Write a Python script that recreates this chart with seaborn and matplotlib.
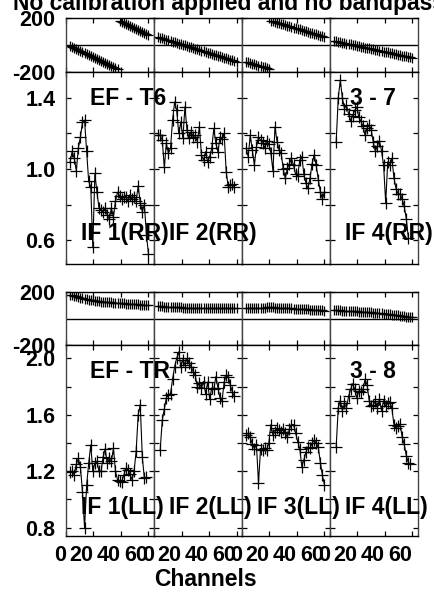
import numpy as np
import matplotlib
matplotlib.use('Agg')
import matplotlib.pyplot as plt
import seaborn as sns

sns.set_style('ticks')
plt.rcParams['font.family'] = ['Liberation Sans', 'DejaVu Sans']
plt.rcParams['font.weight'] = 'bold'
plt.rcParams.update({'text.color': 'k', 'axes.labelcolor': 'k',
                     'xtick.color': 'k', 'ytick.color': 'k'})

nan = np.nan

# ---------------- data ----------------
channels = [3, 4.5, 6, 7.5, 9, 10.5, 12, 13.5, 15, 16.5, 18, 19.5, 21, 22.5, 24, 25.5,
            27, 28.5, 30, 31.5, 33, 34.5, 36, 37.5, 39, 40.5, 42, 43.5, 45, 46.5, 48,
            49.5, 51, 52.5, 54, 55.5, 57, 58.5, 60]

# baseline EF - T6, RR polarisation (upper block)
phase_rr_if1 = [-7, -14, -22, -29, -36, -44, -51, -58, -66, -73, -80, -88, -95, -102, -110,
                -117, -124, -132, -139, -146, -154, -161, -168, -176, 176, 169, 162, 155,
                147, 140, 133, 126, 119, 112, 104, 97, 90, 83, 76]
phase_rr_if2 = [59, 54, 49, 45, 40, 35, 30, 25, 21, 16, 11, 6, 1, -3, -8, -13, -18, -23,
                -27, -32, -37, -42, -47, -51, -56, -61, -66, -71, -75, -80, -85, -90, -95,
                -99, -104, -109, -114, -119, -123]
phase_rr_if3 = [-124, -129, -134, -138, -143, -148, -152, -157, -162, -166, -171, -175,
                180, 175, 171, 166, 161, 157, 152, 147, 143, 138, 133, 129, 124, 119, 115,
                110, 105, 101, 96, 92, 87, 82, 78, 73, 68, 64, 59]
phase_rr_if4 = [31, 28, 25, 21, 18, 15, 11, 8, 5, 1, -2, -5, -9, -12, -15, -19, -22, -25,
                -29, -32, -35, -39, -42, -45, -49, -52, -55, -59, -62, -65, -69, -72, -75,
                -79, -82, -85, -89, -92, -95]

amp_rr_if1 = [1.04, 1.10, 1.06, 0.99, 1.12, 1.18, 1.265, 1.275, 1.10, 0.93, 0.90, 0.56,
              0.975, 0.87, 0.78, 0.77, 0.76, 0.78, 0.74, 0.72, 0.78, 0.73, 0.82, 0.87,
              0.85, 0.83, 0.84, 0.845, 0.82, 0.855, 0.83, 0.845, 0.82, 0.905, 0.81, 0.76,
              0.80, 0.63, 0.52]
amp_rr_if2 = [1.19, 1.19, 1.163, 1.01, 1.144, 1.088, 1.116, 1.275, 1.378, 1.33, 1.20,
              1.265, 1.172, 1.35, 1.22, 1.172, 1.21, 1.18, 1.19, 1.153, 1.237, 1.08, 1.05,
              1.097, 1.04, 1.07, 1.116, 1.228, 1.144, 1.097, 1.18, 1.17, 1.20, 0.985,
              0.90, 0.91, 0.914, 0.90, nan]
amp_rr_if3 = [1.116, 1.07, 1.19, 1.107, 1.022, 1.125, 1.18, 1.163, 1.144, 1.12, 1.16,
              1.14, 1.09, 0.99, 1.237, 1.153, 1.107, 1.088, 1.0, 0.947, 1.004, 1.03, 1.06,
              1.02, 0.97, 0.96, 1.05, 1.07, 0.97, 0.92, 0.891, 0.95, 1.03, 1.08, 1.02,
              0.94, 0.87, 0.83, 0.873]
amp_rr_if4 = [nan, 1.153, 1.40, 1.50, 1.40, 1.34, 1.36, 1.31, 1.27, 1.30, 1.33, 1.35,
              1.29, 1.27, 1.24, 1.19, 1.23, 1.25, 1.22, 1.15, 1.10, 1.13, 1.16, 1.10, 1.02,
              0.81, 1.04, 1.02, 1.06, 0.95, 0.89, 0.86, 0.86, 0.83, 0.79, 0.72, 0.61, nan,
              nan]

# baseline EF - TR, LL polarisation (lower block)
phase_ll_if1 = [180, 177, 172, 167, 162, 157, 152, 148, 145, 142, 139, 136, 134, 132,
                130, 128, 126, 124, 123, 122, 121, 120, 119, 118, 117, 115, 114, 113, 112,
                111, 110, 108, 107, 106, 105, 103, 102, 100, 99]
phase_ll_if2 = [95, 93, 91, 90, 89, 88, 87, 86, 85, 85, 84, 84, 83, 83, 82, 82, 81, 81,
                81, 80, 80, 80, 80, 79, 79, 79, 79, 79, 78, 78, 78, 78, 78, 78, 78, 78, 78,
                78, 78]
phase_ll_if3 = [76, 77, 78, 79, 80, 81, 82, 82, 83, 83, 84, 84, 84, 84, 83, 83, 82, 81,
                80, 79, 78, 77, 76, 75, 74, 73, 72, 71, 70, 69, 68, 67, 66, 65, 64, 63, 62,
                61, 60]
phase_ll_if4 = [64, 63, 62, 61, 60, 59, 58, 57, 56, 55, 54, 53, 52, 51, 50, 49, 48, 47,
                46, 45, 43, 42, 40, 39, 37, 35, 33, 31, 29, 27, 25, 23, 21, 19, 17, 15, 13,
                11, 9]

amp_ll_if1 = [1.197, 1.20, 1.174, 1.25, 1.29, 1.23, 1.05, 0.80, 1.10, 1.256, 1.386, 1.20,
              1.256, 1.27, 1.20, 1.20, 1.30, 1.36, 1.256, 1.29, 1.27, 1.363, 1.20, 1.138,
              1.13, 1.126, 1.17, 1.22, 1.21, 1.18, 1.14, 1.20, 1.34, 1.60, 1.67, 1.30,
              1.15, 1.16, nan]
amp_ll_if2 = [nan, 1.35, 1.56, 1.64, 1.72, 1.74, 1.75, 1.85, 1.94, 2.0, 2.045, 1.94, 1.99,
              1.955, 2.0, 1.965, 1.94, 1.906, 1.88, 1.80, 1.823, 1.79, 1.835, 1.75, 1.83,
              1.71, 1.79, 1.78, 1.87, 1.79, 1.72, 1.70, 1.83, 1.88, 1.87, 1.81, 1.76,
              1.73, nan]
amp_ll_if3 = [1.457, 1.47, 1.44, 1.39, 1.36, 1.386, 1.115, 1.36, 1.35, 1.363, 1.35, 1.40,
              1.53, 1.457, 1.48, 1.504, 1.492, 1.48, 1.50, 1.469, 1.44, 1.50, 1.53, 1.53,
              1.47, 1.41, 1.36, 1.233, 1.28, 1.335, 1.37, 1.363, 1.398, 1.42, 1.398, 1.37,
              1.26, 1.17, 1.103]
amp_ll_if4 = [nan, 1.374, 1.65, 1.70, 1.63, 1.68, 1.65, 1.73, 1.78, 1.82, 1.78, 1.72,
              1.77, 1.76, 1.78, 1.85, 1.81, 1.70, 1.66, 1.67, 1.70, 1.65, 1.71, 1.63, 1.70,
              1.66, 1.68, 1.69, 1.646, 1.53, 1.504, 1.52, 1.535, 1.44, 1.39, 1.31, 1.26,
              1.25, nan]

labels_rr = ['IF 1(RR)', 'IF 2(RR)', '', 'IF 4(RR)']
labels_ll = ['IF 1(LL)', 'IF 2(LL)', 'IF 3(LL)', 'IF 4(LL)']
baseline_rr = ('EF - T6', '3 - 7')
baseline_ll = ('EF - TR', '3 - 8')
title = 'No calibration applied and no bandpass'
xlabel = 'Channels'
x_ticks = [0, 20, 40, 60]
phase_ticks = [-200, 200]
amp_ticks_rr = [0.6, 0.8, 1.0, 1.2, 1.4]
amp_ticklabels_rr = ['0.6', '', '1.0', '', '1.4']
amp_ticks_ll = [0.8, 1.0, 1.2, 1.4, 1.6, 1.8, 2.0]
amp_ticklabels_ll = ['0.8', '', '1.2', '', '1.6', '', '2.0']

# ---------------- layout ----------------
W, H = 435, 592
fig = plt.figure(figsize=(W / 100, H / 100), dpi=100)
xedges = [66, 154, 242, 330, 418]


def ax_at(x0, y0, x1, y1):
    return fig.add_axes([x0 / W, 1 - y1 / H, (x1 - x0) / W, (y1 - y0) / H])


TL = 15.5
AL = 16.5


def style(ax, show_x, show_y):
    ax.set_xlim(0, 64)
    ax.set_xticks(x_ticks)
    ax.tick_params(axis='both', direction='in', length=3.8, width=0.9, top=True,
                   right=True, labelsize=TL, colors='k', pad=7.5)
    ax.tick_params(axis='x', pad=6.5)
    if not show_x:
        ax.set_xticklabels([])
    else:
        ax.set_xticklabels([str(t) for t in x_ticks], fontweight='bold', ha='right')
        for lab in ax.get_xticklabels():
            lab.set_horizontalalignment('right')
    if not show_y:
        ax.tick_params(labelleft=False)
    for side in ['top', 'bottom']:
        ax.spines[side].set_color('k')
        ax.spines[side].set_linewidth(1.0)
    for side in ['left', 'right']:
        ax.spines[side].set_color('#444444')
        ax.spines[side].set_linewidth(1.0)
    ax.set_xlabel('')
    ax.set_ylabel('')
    ax.set_facecolor('white')


blocks = [
    dict(py=(18, 72), ay=(72, 263.5), ylim=(0.468, 1.546), phases=[phase_rr_if1, phase_rr_if2, phase_rr_if3, phase_rr_if4],
         amps=[amp_rr_if1, amp_rr_if2, amp_rr_if3, amp_rr_if4], ticks=amp_ticks_rr,
         tlabels=amp_ticklabels_rr, labels=labels_rr, base=baseline_rr, show_x=False,
         base_y=105, lab_y=240),
    dict(py=(292, 345), ay=(345, 536), ylim=(0.741, 2.094), phases=[phase_ll_if1, phase_ll_if2, phase_ll_if3, phase_ll_if4],
         amps=[amp_ll_if1, amp_ll_if2, amp_ll_if3, amp_ll_if4], ticks=amp_ticks_ll,
         tlabels=amp_ticklabels_ll, labels=labels_ll, base=baseline_ll, show_x=True,
         base_y=378, lab_y=514),
]

x = np.array(channels, dtype=float)
for b in blocks:
    for i in range(4):
        x0, x1 = xedges[i], xedges[i + 1]
        # phase panel
        axp = ax_at(x0, b['py'][0], x1, b['py'][1])
        sns.scatterplot(x=x, y=np.array(b['phases'][i], dtype=float), ax=axp,
                        marker='+', color='k', s=45, linewidth=0.9, legend=False)
        axp.axhline(0, color='k', lw=1.0, zorder=0)
        axp.set_ylim(-200, 200)
        axp.set_yticks(phase_ticks)
        axp.set_yticklabels(['-200', '200'], fontweight='bold')
        style(axp, False, i == 0)
        # amplitude panel
        axa = ax_at(x0, b['ay'][0], x1, b['ay'][1])
        sns.lineplot(x=x, y=np.array(b['amps'][i], dtype=float), ax=axa, color='k',
                     lw=0.8, marker='+', markersize=8, markeredgewidth=0.9,
                     markeredgecolor='k', sort=False, legend=False)
        axa.set_ylim(*b['ylim'])
        axa.set_yticks(b['ticks'])
        axa.set_yticklabels(b['tlabels'], fontweight='bold')
        style(axa, b['show_x'], i == 0)
        if b['labels'][i]:
            fig.text((x0 + 15) / W, 1 - b['lab_y'] / H, b['labels'][i], ha='left',
                     va='baseline', fontsize=AL, fontweight='bold')
    fig.text(90 / W, 1 - b['base_y'] / H, b['base'][0], ha='left', va='baseline',
             fontsize=AL, fontweight='bold')
    fig.text(350 / W, 1 - b['base_y'] / H, b['base'][1], ha='left', va='baseline',
             fontsize=AL, fontweight='bold')

fig.text(13 / W, 1 - 10 / H, title, ha='left', va='baseline', fontsize=AL,
         fontweight='bold')
fig.text(205.5 / W, 1 - 586 / H, xlabel, ha='center', va='baseline', fontsize=AL,
         fontweight='bold')

fig.savefig('out.png', dpi=100, facecolor='white')
